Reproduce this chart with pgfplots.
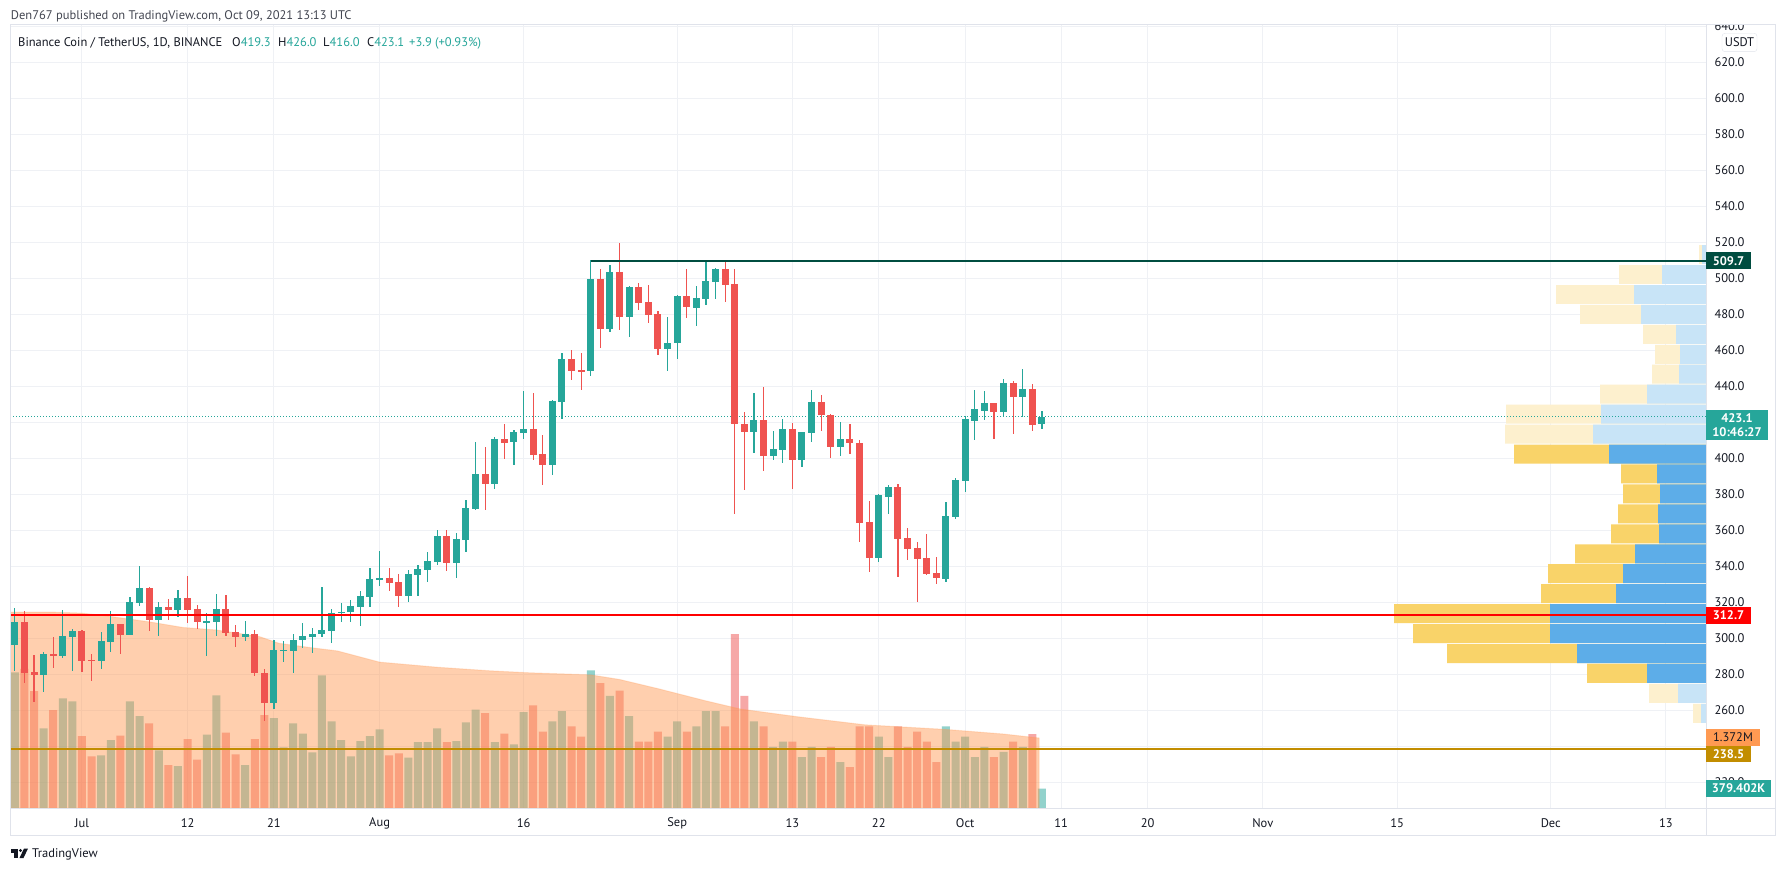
\documentclass[border=0pt]{standalone}
\usepackage{fontspec}
\setmainfont{PT Sans}
\usepackage{pgfplots}
\usepackage{pgfplotstable}
\pgfplotsset{compat=1.18}

\definecolor{up}{HTML}{26A69A}
\definecolor{dn}{HTML}{EF5350}
\definecolor{gridc}{HTML}{EFF1F5}
\definecolor{framec}{HTML}{E0E3EB}
\definecolor{maor}{HTML}{FF974F}
\definecolor{vpb}{HTML}{5DADE8}
\definecolor{vpy}{HTML}{F9D369}
\definecolor{vpbl}{HTML}{C8E4F7}
\definecolor{vpyl}{HTML}{FDF0CE}
\definecolor{resist}{HTML}{004D40}
\definecolor{goldc}{HTML}{C28D00}
\definecolor{lblor}{HTML}{FF9A52}
\definecolor{txt}{HTML}{131722}
\definecolor{hdr}{HTML}{434651}

\newcommand{\tvfont}{\fontsize{12.5}{14}\selectfont}

% day index: 0 = Jul 1, 2021
\pgfplotstableread{
d O H L C V
-7 296.2 316.7 281.7 308.9 2.66
-6 308.9 315.2 275.0 280.6 2.73
-5 281.2 290.6 264.5 279.7 2.29
-4 279.5 292.3 270.0 291.2 1.56
-3 291.2 300.8 283.4 290.0 1.92
-2 290.0 315.6 288.9 301.2 2.15
-1 300.6 305.2 281.7 303.9 2.09
0 303.9 304.5 281.2 287.3 1.41
1 287.8 291.2 276.2 287.5 1.01
2 287.3 303.4 282.8 298.4 1.03
3 297.8 315.0 292.3 307.8 1.33
4 307.8 307.8 291.2 301.7 1.42
5 301.7 322.8 301.7 320.0 2.09
6 319.5 340.0 317.8 327.8 1.80
7 327.8 328.4 304.0 310.0 1.66
8 310.0 320.0 301.2 317.3 1.13
9 317.3 321.7 310.0 315.6 0.84
10 315.6 326.7 311.7 322.3 0.82
11 322.3 334.5 308.4 315.6 1.35
12 316.2 318.4 305.1 309.0 0.95
13 309.0 313.9 290.0 309.5 1.44
14 309.0 324.5 301.2 316.2 2.21
15 316.2 323.9 301.2 302.8 1.48
16 303.4 307.3 295.0 300.6 1.05
17 300.6 309.5 298.4 302.3 0.84
18 302.3 304.5 278.9 280.6 1.35
19 280.6 283.2 253.9 264.1 1.82
20 264.1 298.9 260.8 293.4 1.76
21 293.2 298.4 286.9 293.4 1.19
22 292.8 302.1 280.8 298.9 1.66
23 298.8 308.4 294.7 301.2 1.46
24 300.8 305.9 291.9 302.5 1.09
25 302.6 328.7 300.9 304.6 2.60
26 304.1 316.0 297.6 314.2 1.70
27 314.2 319.6 308.8 314.6 1.33
28 314.4 321.4 309.2 317.7 1.01
29 317.3 326.2 307.0 323.4 1.31
30 322.9 338.8 317.3 332.9 1.41
31 332.5 348.4 329.2 333.3 1.54
32 333.3 338.8 326.2 330.7 1.03
33 331.2 335.7 317.3 323.4 1.07
34 323.4 337.9 320.3 335.7 0.99
35 335.1 340.7 323.6 338.4 1.29
36 337.9 347.9 331.2 342.9 1.29
37 342.3 360.1 340.7 356.8 1.56
38 356.8 360.1 337.3 341.8 1.29
39 341.8 358.4 333.4 355.1 1.31
40 354.6 376.8 347.9 372.3 1.68
41 371.8 409.0 371.2 391.2 1.93
42 391.2 406.2 371.2 385.9 1.86
43 385.9 411.8 382.9 410.7 1.29
44 410.7 419.0 399.6 408.4 1.46
45 408.9 415.5 396.1 414.4 1.25
46 414.0 437.4 410.7 416.1 1.88
47 416.1 436.2 398.9 401.7 2.01
48 402.1 412.8 385.3 396.1 1.50
49 396.1 432.4 390.9 431.8 1.70
50 431.4 458.6 421.9 455.3 1.90
51 455.3 460.3 443.7 448.7 1.60
52 448.9 458.6 438.1 448.5 1.40
53 448.7 510.1 445.9 499.5 2.70
54 499.5 505.0 461.0 471.7 2.45
55 471.7 507.3 470.0 503.4 2.20
56 503.4 519.6 471.1 478.4 2.30
57 478.4 495.6 467.2 495.0 1.80
58 495.0 497.2 482.3 486.0 1.30
59 486.6 496.1 475.0 479.5 1.30
60 479.9 481.6 457.1 460.5 1.50
61 460.5 478.2 448.2 464.2 1.40
62 463.8 490.5 455.4 490.0 1.70
63 490.0 505.1 477.8 484.0 1.50
64 483.4 495.6 473.7 488.8 1.60
65 488.5 510.1 485.1 498.4 1.90
66 498.0 505.6 488.3 505.1 1.90
67 505.1 510.1 486.8 496.3 1.60
68 496.7 505.1 369.1 419.1 3.41
69 419.1 425.7 382.5 414.7 2.20
70 414.7 436.2 403.1 421.2 1.70
71 421.2 439.6 393.1 401.4 1.60
72 401.4 415.1 399.2 405.1 1.20
73 404.7 421.8 397.5 416.2 1.30
74 416.2 419.6 383.1 399.2 1.30
75 399.2 414.6 395.3 414.6 1.00
76 414.2 437.9 409.2 431.2 1.20
77 431.2 435.1 415.3 424.2 1.00
78 424.0 424.5 400.3 406.4 1.20
79 406.4 420.1 401.4 410.7 0.90
80 410.7 419.0 402.5 408.6 0.80
81 408.4 410.1 353.6 364.2 1.60
82 364.6 376.2 337.0 344.7 1.60
83 344.7 380.1 342.5 379.6 1.40
84 378.6 385.1 369.2 384.0 1.00
85 384.0 385.5 334.2 355.3 1.60
86 355.7 361.2 343.6 349.7 1.20
87 350.1 353.4 320.3 344.2 1.50
88 344.6 357.9 335.3 335.9 1.30
89 336.2 345.1 330.3 333.6 0.90
90 333.1 375.7 331.4 367.9 1.60
91 367.5 389.0 366.4 387.9 1.30
92 387.5 423.4 381.4 421.8 1.40
93 420.9 437.9 410.1 427.3 1.00
94 426.2 437.3 421.4 430.7 1.20
95 430.7 430.7 410.7 425.9 1.00
96 425.5 444.0 423.3 441.8 1.10
97 441.8 442.9 413.7 434.1 1.30
98 434.1 449.6 422.7 438.4 1.20
99 438.4 441.2 415.0 418.4 1.45
100 419.3 426.0 416.0 423.1 0.379
}\ohlc

% volume moving average (millions)
\pgfplotstableread{
d ma
-7.5 3.84
-3 3.84
0 3.82
2 3.78
7 3.65
10.5 3.54
14 3.49
18.5 3.36
20.5 3.23
24 3.14
26.6 3.08
31 2.86
37 2.76
42.5 2.69
46.7 2.65
53 2.61
56 2.52
60 2.34
65 2.10
68.6 1.94
74.5 1.79
81.6 1.63
90 1.54
96 1.45
99.7 1.372
}\matab

% volume profile: row centre price, up width, total width (px), value area flag
\pgfplotstableread{
p up tot va
258.3 5 13 0
269.4 28 57 0
280.5 59 119 1
291.5 129 259 1
302.6 156 293 1
313.7 156 312 1
324.8 90 165 1
335.9 83 158 1
346.9 71 131 1
358.0 47 95 1
369.1 48 88 1
380.2 46 83 1
391.3 49 85 1
402.3 97 192 1
413.4 113 201 0
424.5 105 200 0
435.6 59 106 0
446.7 27 54 0
457.7 26 51 0
468.8 30 63 0
479.9 65 126 0
491.0 72 150 0
502.1 44 87 0
513.2 4 7 0
}\vp

\pgfplotsset{
  tvbox/.style={at={(10pt,63pt)}, anchor=south west, width=1696pt, height=783pt,
    scale only axis},
  tvbase/.style={tvbox, xmin=-7.5, xmax=169.17},
  price/.style={tvbase, ymin=205.7, ymax=640.7},
  isup/.style={restrict expr to domain={\thisrow{C}-\thisrow{O}}{0:10000}},
  isdn/.style={restrict expr to domain={\thisrow{C}-\thisrow{O}}{-10000:-0.00001}},
}

\begin{document}
\begin{tikzpicture}
\useasboundingbox (0pt,0pt) rectangle (1785pt,871pt);
\fill[white] (0pt,0pt) rectangle (1785pt,871pt);

% grid and scales
\begin{axis}[price, axis line style={draw=none}, major tick length=0pt,
  xtick={0,11,20,31,46,62,74,83,92,102,111,123,137,153,165},
  xticklabels={Jul,12,21,Aug,16,Sep,13,22,Oct,11,20,Nov,15,Dec,13},
  ytick={220,240,...,640},
  yticklabels={220.0,{},260.0,280.0,300.0,320.0,340.0,360.0,380.0,400.0,{},440.0,460.0,480.0,500.0,520.0,540.0,560.0,580.0,600.0,620.0,640.0},
  yticklabel pos=right,
  grid=major, major grid style={draw=gridc, line width=1pt},
  xticklabel style={anchor=center, yshift=-15pt, font=\tvfont, text=txt},
  yticklabel style={anchor=west, xshift=5pt, font=\tvfont, text=txt}]
\addplot[draw=none] coordinates {(0,300)};
\end{axis}

% volume and its moving average
\begin{axis}[tvbase, ymin=0, ymax=15.353, hide axis]
\addplot[ybar, bar width=8pt, bar shift=0pt, draw=none, fill=up, fill opacity=0.5, isup]
  table[x=d, y=V] {\ohlc};
\addplot[ybar, bar width=8pt, bar shift=0pt, draw=none, fill=dn, fill opacity=0.5, isdn]
  table[x=d, y=V] {\ohlc};
\addplot[fill=maor, fill opacity=0.46, draw=maor, draw opacity=0.25, line width=1pt]
  table[x=d, y=ma] {\matab} \closedcycle;
\end{axis}

% visible range volume profile
\begin{axis}[tvbox, xmin=0, xmax=1696, x dir=reverse, ymin=205.7, ymax=640.7, hide axis]
\addplot[xbar, bar width=10.5, bar shift=0pt, draw=none, fill=vpyl,
  restrict expr to domain={\thisrow{va}}{-0.5:0.5}] table[x=tot, y=p] {\vp};
\addplot[xbar, bar width=10.5, bar shift=0pt, draw=none, fill=vpbl,
  restrict expr to domain={\thisrow{va}}{-0.5:0.5}] table[x=up, y=p] {\vp};
\addplot[xbar, bar width=10.5, bar shift=0pt, draw=none, fill=vpy,
  restrict expr to domain={\thisrow{va}}{0.5:1.5}] table[x=tot, y=p] {\vp};
\addplot[xbar, bar width=10.5, bar shift=0pt, draw=none, fill=vpb,
  restrict expr to domain={\thisrow{va}}{0.5:1.5}] table[x=up, y=p] {\vp};
\end{axis}

% candles and drawn levels
\begin{axis}[price, hide axis]
\addplot[up, dotted, line width=1pt] coordinates {(-7.5,423.1) (169.17,423.1)};
\addplot[draw=none, isup, error bars/.cd, y dir=both, y explicit, error mark=none,
  error bar style={draw=up, line width=1.2pt}]
  table[x=d, y expr={(\thisrow{H}+\thisrow{L})/2}, y error expr={(\thisrow{H}-\thisrow{L})/2}] {\ohlc};
\addplot[draw=none, isdn, error bars/.cd, y dir=both, y explicit, error mark=none,
  error bar style={draw=dn, line width=1.2pt}]
  table[x=d, y expr={(\thisrow{H}+\thisrow{L})/2}, y error expr={(\thisrow{H}-\thisrow{L})/2}] {\ohlc};
\addplot[draw=none, isup, error bars/.cd, y dir=both, y explicit, error mark=none,
  error bar style={draw=up, line width=7pt}]
  table[x=d, y expr={(\thisrow{O}+\thisrow{C})/2}, y error expr={max(abs(\thisrow{C}-\thisrow{O})/2,0.35)}] {\ohlc};
\addplot[draw=none, isdn, error bars/.cd, y dir=both, y explicit, error mark=none,
  error bar style={draw=dn, line width=7pt}]
  table[x=d, y expr={(\thisrow{O}+\thisrow{C})/2}, y error expr={max(abs(\thisrow{C}-\thisrow{O})/2,0.35)}] {\ohlc};
\addplot[red, line width=2pt] coordinates {(-7.5,312.7) (169.17,312.7)};
\addplot[goldc, line width=2pt] coordinates {(-7.5,238.5) (169.17,238.5)};
\addplot[resist, line width=2pt] coordinates {(53,509.7) (169.17,509.7)};
\end{axis}

\begin{scope}[x=1pt, y=1pt]
% cover the price scale above the frame
\fill[white] (1706,846.5) rectangle (1785,871);

% frame
\draw[framec, line width=1pt] (10,36) rectangle (1775,846);
\draw[framec, line width=1pt] (10,63) -- (1775,63);
\draw[framec, line width=1pt] (1706,36) -- (1706,846);

% price scale labels
\begin{scope}[every node/.style={font=\tvfont\bfseries, text=white, inner sep=0pt}]
\fill[resist] (1706,601.7) rectangle (1751,618.7);
\node at (1728.5,610.2) {509.7};
\fill[up] (1706,431) rectangle (1768,461);
\node at (1737,452.5) {423.1};
\node at (1737,438.5) {10:46:27};
\fill[red] (1706,247) rectangle (1751,264);
\node at (1728.5,255.5) {312.7};
\fill[lblor] (1706,125.3) rectangle (1760,141.7);
\node[text=txt, font=\tvfont] at (1733,133.5) {1.372M};
\fill[goldc] (1706,108.7) rectangle (1751,125.3);
\node at (1728.5,117) {238.5};
\fill[up] (1706,74.3) rectangle (1771,91);
\node at (1738.5,82.7) {379.402K};
\end{scope}
\draw[framec, fill=white, rounded corners=3pt] (1722,819.3) rectangle (1757,837.7);
\node[font=\tvfont, text=txt, inner sep=0pt] at (1739.5,828.5) {USDT};

% header and legend
\begin{scope}[every node/.style={font=\tvfont, text=txt, inner sep=0pt, anchor=base west}]
\node[text=hdr] at (10.7,851.5) {Den767 published on TradingView.com, Oct 09, 2021 13:13 UTC};
\node at (18,824.5) {Binance Coin / TetherUS, 1D, BINANCE};
\node at (232,824.5) {O\textcolor{up}{419.3}};
\node at (278,824.5) {H\textcolor{up}{426.0}};
\node at (323,824.5) {L\textcolor{up}{416.0}};
\node at (367,824.5) {C\textcolor{up}{423.1}};
\node[text=up] at (409,824.5) {+3.9 (+0.93\%)};
\node at (32,13.5) {TradingView};
\end{scope}

% logo mark
\fill[txt] (11,18.5) rectangle (18,22.5);
\fill[txt] (14,13) rectangle (18,22.5);
\fill[txt] (20.5,20.5) circle (1.7);
\fill[txt] (19.5,13) -- (23.5,13) -- (28,22.5) -- (24,22.5) -- cycle;
\end{scope}
\end{tikzpicture}
\end{document}
